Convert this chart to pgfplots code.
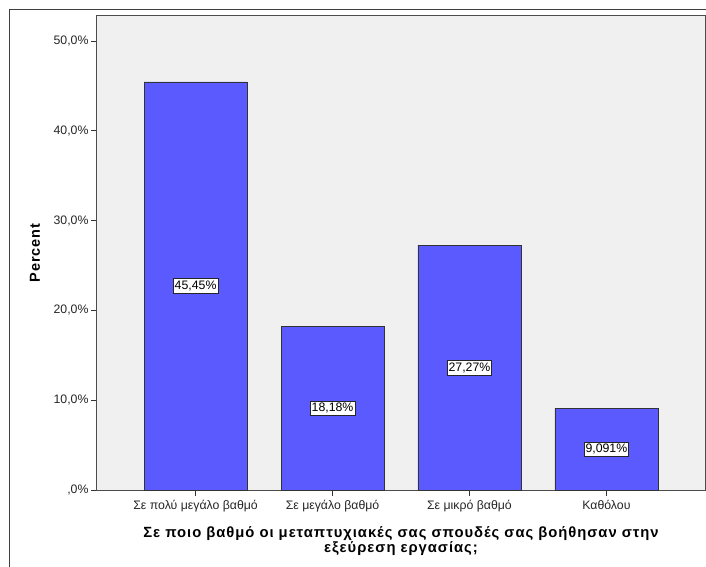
\documentclass[border=0pt]{standalone}
\usepackage{pgfplots}
\pgfplotsset{compat=1.18}
\usepackage{fontspec}
\setmainfont{Liberation Sans}
\definecolor{barblue}{RGB}{90,90,255}
\definecolor{bggray}{RGB}{240,240,240}
\begin{document}
\begin{tikzpicture}[x=1pt,y=1pt]
\useasboundingbox (-97,-76) rectangle (609,490);
\draw[line width=1pt, black!75] (-87,-90) -- (-87,480) -- (620,480);
\begin{axis}[at={(0,0)}, anchor=south west, scale only axis,
 width=608pt, height=474pt,
 xmin=-0.72, xmax=3.72, ymin=0, ymax=52.8,
 axis background/.style={fill=bggray},
 axis line style={draw=black!70, line width=1pt},
 ybar, bar width=103pt,
 xtick={0,1,2,3},
 xticklabels={Σε πολύ μεγάλο βαθμό, Σε μεγάλο βαθμό, Σε μικρό βαθμό, Καθόλου},
 ytick={0,10,20,30,40,50},
 yticklabels={{,0\%},{10,0\%},{20,0\%},{30,0\%},{40,0\%},{50,0\%}},
 tick align=outside, major tick length=6pt,
 xtick pos=bottom, ytick pos=left,
 tick style={black!80, line width=1pt},
 tick label style={font=\fontsize{12.3}{14}\selectfont, text=black!85},
 yticklabel style={xshift=1pt},
 xticklabel style={yshift=-1pt},
 every axis y label/.style={at={(axis description cs:0,0.5)}, xshift=-62pt, rotate=90, anchor=center, font=\bfseries\fontsize{14.5}{16}\selectfont\addfontfeature{LetterSpace=6}},
 ylabel={Percent},
 every axis x label/.style={at={(axis description cs:0.5,0)}, anchor=north, yshift=-33pt, align=center, font=\bfseries\fontsize{14.8}{15.5}\selectfont\addfontfeature{LetterSpace=6.5}},
 xlabel={Σε ποιο βαθμό οι μεταπτυχιακές σας σπουδές σας βοήθησαν στην\\εξεύρεση εργασίας;},
 clip=false,
]
\addplot[fill=barblue, draw=black!80, line width=0.8pt] coordinates {(0,45.45) (1,18.18) (2,27.27) (3,9.091)};
\addplot[draw=none, mark=none, forget plot,
 nodes near coords, point meta=explicit symbolic,
 every node near coord/.style={anchor=center, fill=white, draw=black!85, line width=0.7pt, inner xsep=1.5pt, inner ysep=2.2pt, font=\fontsize{12.3}{14}\selectfont}]
 coordinates {(0,22.725)[45,45\%] (1,9.09)[18,18\%] (2,13.635)[27,27\%] (3,4.5455)[9,091\%]};
\end{axis}
\end{tikzpicture}
\end{document}
